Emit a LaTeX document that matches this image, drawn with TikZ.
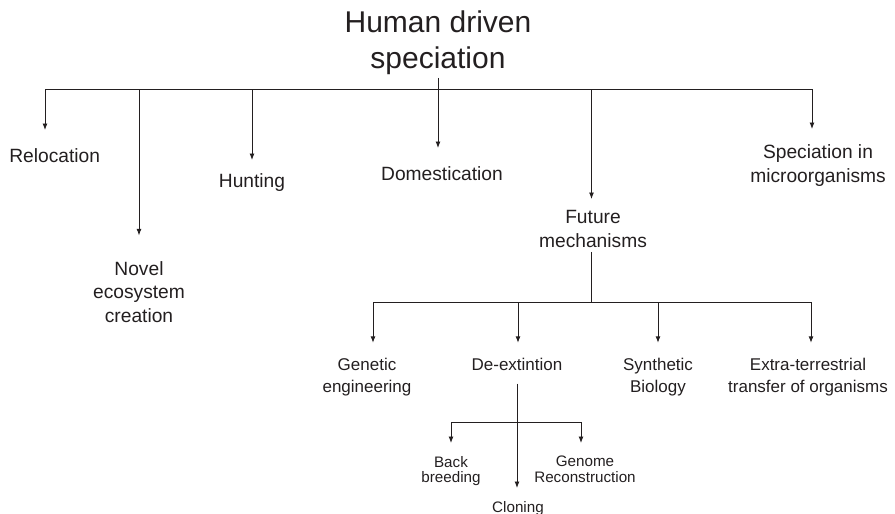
\documentclass[tikz,border=0pt]{standalone}
\usepackage{fontspec}
\setmainfont{Liberation Sans}
\usetikzlibrary{arrows.meta}
\definecolor{ink}{HTML}{231F20}
\begin{document}
\begin{tikzpicture}[x=1pt,y=-1pt,
  every node/.style={inner sep=0pt, text=ink, align=center, anchor=north},
  lone/.style={font=\fontsize{19.2}{23.4}\selectfont},
  ltwo/.style={font=\fontsize{17}{22}\selectfont},
  lthree/.style={font=\fontsize{15.2}{15.5}\selectfont},
  ttl/.style={font=\fontsize{30}{36.6}\selectfont},
  link/.style={draw=ink, line width=0.9pt},
  arr/.style={link, -{Latex[length=6.5pt,width=5pt]}},
]
\useasboundingbox (0,0) rectangle (895,514);
% nodes
\node[ttl] (t) at (438,10.4) {Human driven\\speciation};
\node[lone] (rel) at (54.7,148) {Relocation};
\node[lone] (nov) at (139,261.4) {Novel\\ecosystem\\creation};
\node[lone] (hun) at (252,173) {Hunting};
\node[lone] (dom) at (442,166.4) {Domestication};
\node[lone] (fut) at (593,210.4) {Future\\mechanisms};
\node[lone] (spe) at (818,144.7) {Speciation in\\microorganisms};
\node[ltwo] (gen) at (367,357.8) {Genetic\\engineering};
\node[ltwo] (dex) at (517,357.8) {De-extintion};
\node[ltwo] (syn) at (658,357.8) {Synthetic\\Biology};
\node[ltwo] (ext) at (808,357.8) {Extra-terrestrial\\transfer of organisms};
\node[lthree] (bac) at (451,456) {Back\\breeding};
\node[lthree] (gnm) at (585,456) {Genome\\Reconstruction};
\node[lthree] (clo) at (518,501) {Cloning};
% first level
\coordinate (b1) at (45,89.5);
\coordinate (b2) at (139,89.5);
\coordinate (b3) at (252,89.5);
\coordinate (b5) at (591.5,89.5);
\coordinate (b6) at (812,89.5);
\draw[link] (b2) -- (b5);
\draw[arr, shorten >=18] (b2) -- (b1) -- (b1 |- rel.north);
\draw[arr, shorten >=26] (b2) -- (b2 |- nov.north);
\draw[arr, shorten >=13] (b3) -- (b3 |- hun.north);
\draw[arr, shorten <=2.6, shorten >=18.4] (t.south) -- (t.south |- dom.north);
\draw[arr, shorten >=11.4] (b5) -- (b5 |- fut.north);
\draw[arr, shorten >=15.7] (b5) -- (b6) -- (b6 |- spe.north);
% second level
\coordinate (c1) at (373,302.7);
\coordinate (c2) at (518,302.7);
\coordinate (c3) at (658,302.7);
\coordinate (c4) at (811,302.7);
\coordinate (cf) at (591.7,302.7);
\draw[link, shorten <=4.4] (cf |- fut.south) -- (cf);
\draw[link] (c2) -- (c3);
\draw[arr, shorten >=15] (c2) -- (c1) -- (c1 |- gen.north);
\draw[arr, shorten >=15] (c2) -- (c2 |- dex.north);
\draw[arr, shorten >=15] (c3) -- (c3 |- syn.north);
\draw[arr, shorten >=15] (c3) -- (c4) -- (c4 |- ext.north);
% third level
\coordinate (d0) at (517,422);
\coordinate (d1) at (451,422);
\coordinate (d2) at (581,422);
\draw[arr, shorten <=13, shorten >=13] (dex.south) -- (dex.south |- clo.north);
\draw[arr, shorten >=13] (d0) -- (d1) -- (d1 |- bac.north);
\draw[arr, shorten >=13] (d0) -- (d2) -- (d2 |- gnm.north);
\end{tikzpicture}
\end{document}
